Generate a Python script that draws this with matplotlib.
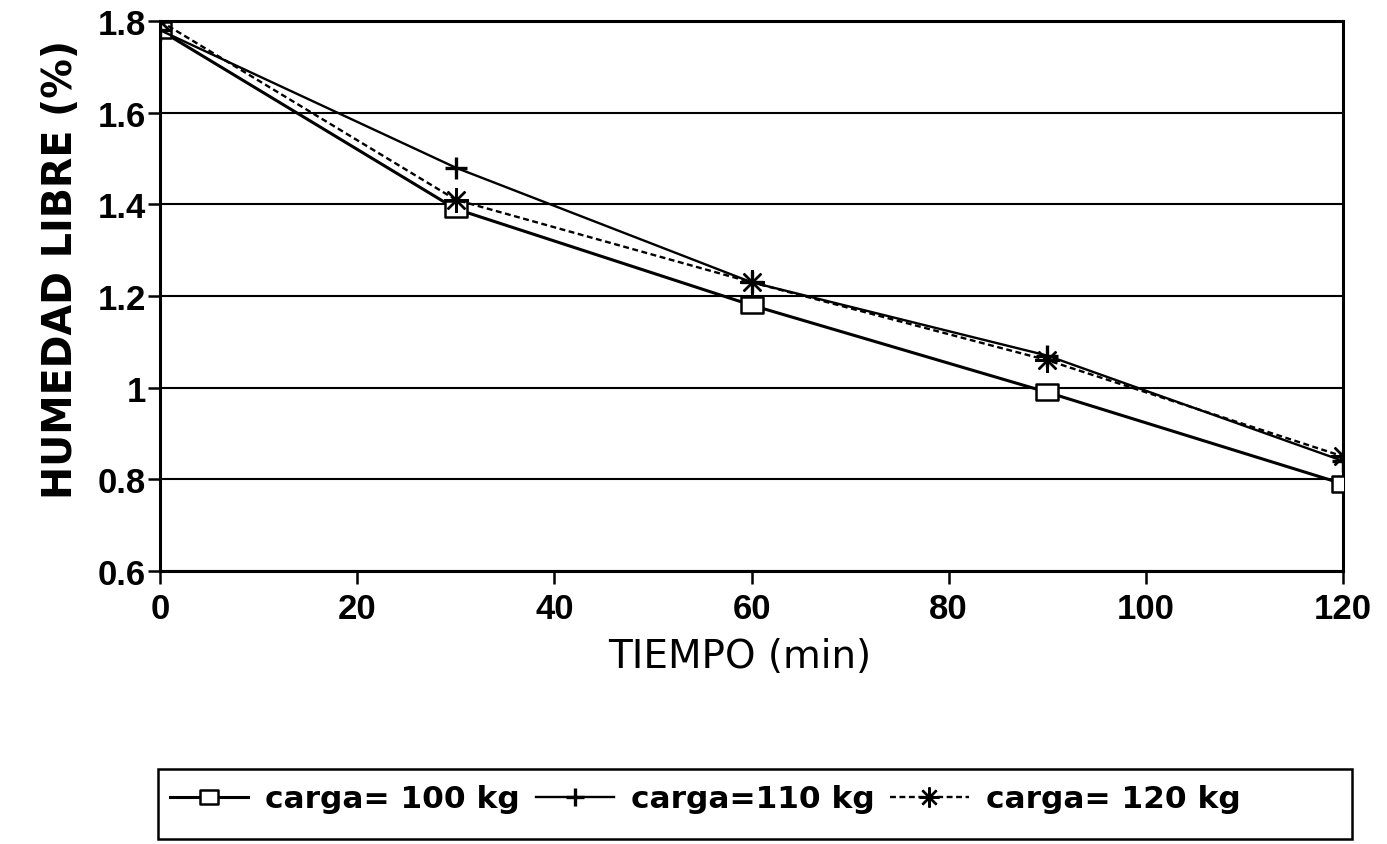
import matplotlib
matplotlib.use("Agg")
import matplotlib.pyplot as plt
from matplotlib.patches import Rectangle
from matplotlib.path import Path

plt.rcParams['font.family'] = ['Liberation Sans', 'DejaVu Sans']

tiempo = [0, 30, 60, 90, 120]
carga_100 = [1.78, 1.39, 1.18, 0.99, 0.79]
carga_110 = [1.78, 1.48, 1.23, 1.07, 0.84]
carga_120 = [1.80, 1.41, 1.23, 1.06, 0.85]
labels = ["carga= 100 kg", "carga=110 kg", "carga= 120 kg"]
xticks = [0, 20, 40, 60, 80, 100, 120]
yticks = [0.6, 0.8, 1.0, 1.2, 1.4, 1.6, 1.8]
yticklabels = ["0.6", "0.8", "1", "1.2", "1.4", "1.6", "1.8"]

# wide open rectangle marker
rect_marker = Path([(-1.35, -1), (1.35, -1), (1.35, 1), (-1.35, 1), (-1.35, -1)],
                   [Path.MOVETO, Path.LINETO, Path.LINETO, Path.LINETO, Path.CLOSEPOLY])

W, H = 1387, 845
fig = plt.figure(figsize=(W / 100, H / 100), dpi=100)
ax = fig.add_axes([160 / W, 1 - 572 / H, 1183 / W, 550 / H])

l1, = ax.plot(tiempo, carga_100, color='black', lw=2.2, marker=rect_marker, ms=16,
              mfc='white', mec='black', mew=1.8, label=labels[0], zorder=3)
l2, = ax.plot(tiempo, carga_110, color='black', lw=1.7, marker='+', ms=16,
              mew=2.4, label=labels[1], zorder=3)
l3, = ax.plot(tiempo, carga_120, color='black', lw=1.7, ls=(0, (2.5, 1.5)),
              marker=(8, 2, 0), ms=18, mew=1.7, label=labels[2], zorder=4)

ax.set_xlim(0, 120)
ax.set_ylim(0.6, 1.8)
ax.set_xticks(xticks)
ax.set_yticks(yticks)
ax.set_yticklabels(yticklabels)
ax.grid(axis='y', color='black', lw=1.5)
ax.set_axisbelow(True)
for s in ax.spines.values():
    s.set_linewidth(2.2)
    s.set_color('black')
ax.tick_params(axis='both', direction='out', length=9, width=1.8, labelsize=25)
ax.tick_params(axis='x', pad=6)
ax.tick_params(axis='y', pad=1)
for t in ax.get_xticklabels() + ax.get_yticklabels():
    t.set_fontweight('bold')

xl = ax.set_xlabel("TIEMPO (min)", fontsize=28, family=['DejaVu Sans'])
ax.xaxis.set_label_coords(0.49, -0.155)
xl.set_va('center')
yl = ax.set_ylabel("HUMEDAD LIBRE (%)", fontsize=28.5, fontweight='bold',
                   family=['DejaVu Sans'])
ax.yaxis.set_label_coords(-0.084, 0.55)
yl.set_va('center')

# Legend box
fig.patches.append(Rectangle((158 / W, 1 - 840 / H), (1352 - 158) / W, (840 - 770) / H,
                             transform=fig.transFigure, fill=False,
                             edgecolor='black', lw=1.8))
fig.legend(handles=[l1, l2, l3], labels=labels, loc='center left',
           bbox_to_anchor=(170 / W, 1 - 800 / H), ncol=3, frameon=False,
           prop={'size': 22.5, 'weight': 'bold', 'family': 'DejaVu Sans'},
           handlelength=2.5, handletextpad=0.55, columnspacing=0.5,
           markerscale=0.8, borderpad=0.0, borderaxespad=0.0)

fig.savefig("out.png", dpi=100)
